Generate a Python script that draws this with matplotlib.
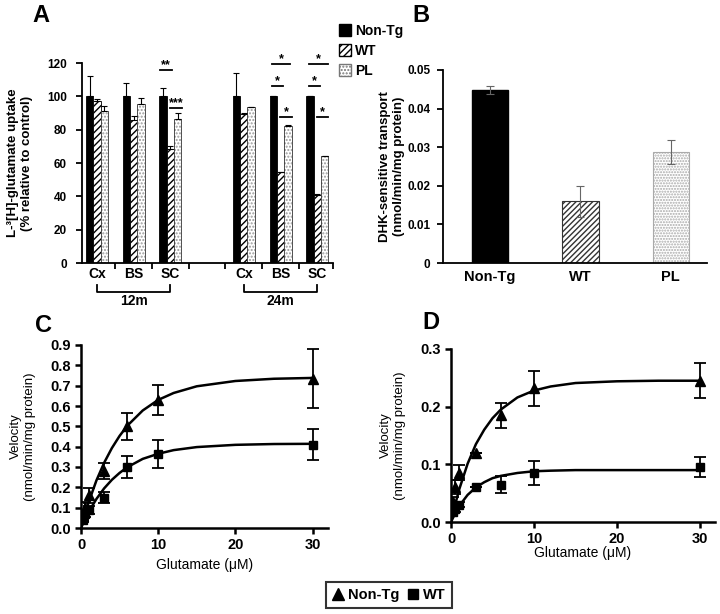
import numpy as np
import matplotlib
matplotlib.use('Agg')
import matplotlib.pyplot as plt
from matplotlib.patches import Patch
from matplotlib.lines import Line2D

plt.rcParams['font.family'] = ['Liberation Sans', 'DejaVu Sans']
plt.rcParams['hatch.linewidth'] = 1.0

# Painel A: captação de glutamato (% do controle)
regioes = ['Cx', 'BS', 'SC', 'Cx', 'BS', 'SC']
idades = ['12m', '24m']
nontg_a = [100, 100, 100, 100, 100, 100]
wt_a = [97, 86, 68.5, 89.5, 54.5, 41]
pl_a = [91.5, 95.5, 86.5, 93.5, 82.5, 64]
nontg_a_err = [12, 8, 5, 14, 0.3, 0.5]
wt_a_err = [1.5, 2, 1.5, 0.3, 0.2, 0.2]
pl_a_err = [2.5, 3.5, 3.5, 0.3, 0.3, 0.5]
# significância: (x inicial, x final, y, texto)
sig_a = [(1.72, 2.04, 116, '**'), (1.99, 2.32, 93, '***'),
         (4.77, 5.26, 119.5, '*'), (4.77, 5.07, 106, '*'), (4.99, 5.31, 87.6, '*'),
         (5.78, 6.29, 119.5, '*'), (5.78, 6.08, 106, '*'), (6.0, 6.29, 87.6, '*')]

# Painel B: transporte sensível a DHK
grupos_b = ['Non-Tg', 'WT', 'PL']
dhk_b = [0.0449, 0.016, 0.0288]
dhk_b_err = [0.001, 0.004, 0.0031]

# Painéis C e D: cinética (pontos e curva ajustada)
glu = [0.25, 0.5, 1, 3, 6, 10, 30]
c_nontg = [0.06, 0.10, 0.16, 0.28, 0.50, 0.63, 0.735]
c_nontg_err = [0.02, 0.03, 0.035, 0.04, 0.065, 0.075, 0.145]
c_wt = [0.04, 0.07, 0.09, 0.15, 0.30, 0.365, 0.41]
c_wt_err = [0.01, 0.015, 0.02, 0.025, 0.055, 0.07, 0.075]
d_nontg = [0.035, 0.06, 0.085, 0.12, 0.185, 0.232, 0.245]
d_nontg_err = [0.008, 0.012, 0.013, 0.0, 0.022, 0.03, 0.03]
d_wt = [0.018, 0.022, 0.03, 0.06, 0.065, 0.085, 0.095]
d_wt_err = [0.003, 0.005, 0.004, 0.0, 0.015, 0.02, 0.017]

curva_x = [0, 0.5, 1, 2, 3, 4, 5, 6, 8, 10, 12, 15, 20, 25, 30]
c_nontg_fit = [0, 0.067, 0.128, 0.234, 0.321, 0.393, 0.453, 0.503, 0.578, 0.630, 0.664, 0.697, 0.723, 0.734, 0.738]
c_wt_fit = [0, 0.042, 0.080, 0.143, 0.195, 0.237, 0.271, 0.299, 0.340, 0.365, 0.383, 0.398, 0.409, 0.413, 0.414]
d_nontg_fit = [0, 0.030, 0.057, 0.101, 0.135, 0.160, 0.180, 0.195, 0.216, 0.228, 0.235, 0.241, 0.244, 0.245, 0.245]
d_wt_fit = [0, 0.015, 0.028, 0.047, 0.060, 0.069, 0.076, 0.080, 0.085, 0.088, 0.089, 0.090, 0.090, 0.090, 0.090]

fig = plt.figure(figsize=(7.2, 6.14), dpi=100)


def estilo(ax, lw=1.5):
    ax.spines['top'].set_visible(False)
    ax.spines['right'].set_visible(False)
    ax.spines['left'].set_linewidth(lw)
    ax.spines['bottom'].set_linewidth(lw)
    ax.tick_params(width=lw, length=4, direction='out')


# ---------- A ----------
axA = fig.add_axes([82 / 720, 1 - 263 / 614, 251 / 720, 200 / 614])
estilo(axA, 1.3)
pos = np.array([0, 1, 2, 4, 5, 6])
w = 0.2
axA.bar(pos - w, nontg_a, w, color='black', edgecolor='black', linewidth=0.6)
axA.bar(pos, wt_a, w, color='white', edgecolor='black', hatch='/////', linewidth=0.6)
axA.bar(pos + w, pl_a, w, color='white', edgecolor='#9a9a9a', hatch='.....', linewidth=0)
axA.bar(pos + w, pl_a, w, fill=False, edgecolor='#333333', linewidth=0.6)
for off, vals, errs in [(-w, nontg_a, nontg_a_err), (0, wt_a, wt_a_err), (w, pl_a, pl_a_err)]:
    axA.errorbar(pos + off, vals, yerr=[np.zeros(len(errs)), errs], fmt='none',
                 ecolor='black', elinewidth=0.8, capsize=2.5, capthick=0.8)
for x0, x1, y, txt in sig_a:
    axA.plot([x0, x1], [y, y], color='black', lw=1.3, clip_on=False)
    axA.text((x0 + x1) / 2, y - 0.8, txt, ha='center', va='bottom', fontsize=9,
             fontweight='bold', clip_on=False)
axA.set_xlim(-0.41, 6.43)
axA.set_ylim(0, 120)
axA.set_yticks(range(0, 121, 20))
axA.set_xticks([0.5, 1.5, 2.5, 3.5, 4.5, 5.5, 6.43])
axA.set_xticklabels([])
axA.set_xticks(pos, minor=True)
axA.set_xticklabels(regioes, minor=True, fontsize=10, fontweight='bold')
axA.tick_params(axis='x', which='minor', length=0, pad=3)
axA.tick_params(axis='y', labelsize=8.5, pad=7)
for lab in axA.get_yticklabels():
    lab.set_fontweight('bold')
axA.set_ylabel('L-³[H]-glutamate uptake\n(% relative to control)', fontsize=9.5,
               fontweight='bold', labelpad=10)
trA = axA.get_xaxis_transform()
for (x0, x1), idade in zip([(0, 2), (4, 6)], idades):
    axA.plot([x0, x0, x1, x1], [-0.11, -0.145, -0.145, -0.11], color='black', lw=1.3,
             transform=trA, clip_on=False)
    axA.text((x0 + x1) / 2, -0.155, idade, transform=trA, ha='center', va='top',
             fontsize=10, fontweight='bold')

handles_a = [Patch(facecolor='black', edgecolor='black'),
             Patch(facecolor='white', edgecolor='black', hatch='/////'),
             Patch(facecolor='white', edgecolor='#777777', hatch='.....')]
fig.legend(handles_a, ['Non-Tg', 'WT', 'PL'], loc='upper left',
           bbox_to_anchor=(333 / 720, 1 - 18 / 614), frameon=False,
           prop={'weight': 'bold', 'size': 10}, handlelength=0.9, handleheight=0.9,
           handletextpad=0.3, labelspacing=0.45, borderaxespad=0)

# ---------- B ----------
axB = fig.add_axes([443 / 720, 1 - 263 / 614, 264 / 720, 193 / 614])
estilo(axB, 1.3)
xb = np.arange(3)
axB.bar(xb[0], dhk_b[0], 0.4, color='black', edgecolor='black')
axB.bar(xb[1], dhk_b[1], 0.4, color='white', edgecolor='#333333', hatch='//////', linewidth=0.8)
axB.bar(xb[2], dhk_b[2], 0.4, color='white', edgecolor='#aaaaaa', hatch='......', linewidth=0.8)
axB.errorbar(xb, dhk_b, yerr=dhk_b_err, fmt='none', ecolor='#666666', elinewidth=0.8,
             capsize=3, capthick=0.8)
axB.set_xlim(-0.52, 2.4)
axB.set_ylim(0, 0.05)
axB.set_yticks([0, 0.01, 0.02, 0.03, 0.04, 0.05])
axB.set_yticklabels(['0', '0.01', '0.02', '0.03', '0.04', '0.05'], fontsize=8.5, fontweight='bold')
axB.tick_params(axis='y', pad=5)
axB.set_xticks(xb)
axB.set_xticklabels(grupos_b, fontsize=10.5, fontweight='bold')
axB.tick_params(axis='x', length=0, pad=5)
axB.set_ylabel('DHK-sensitive transport\n(nmol/min/mg protein)', fontsize=9.5,
               fontweight='bold', labelpad=2)


# ---------- C e D ----------
def cinetica(ax, y1, e1, f1, y2, e2, f2, ymax, yticks, ylabs, xmax, xpad):
    estilo(ax, 1.8)
    ax.plot(curva_x, f1, color='black', lw=1.8)
    ax.plot(curva_x, f2, color='black', lw=1.8)
    ax.errorbar(glu, y1, yerr=e1, fmt='^', color='black', ms=6.5, elinewidth=1.3,
                capsize=4, capthick=1.3)
    ax.errorbar(glu, y2, yerr=e2, fmt='s', color='black', ms=5.5, elinewidth=1.3,
                capsize=4, capthick=1.3)
    ax.set_xlim(0, xmax)
    ax.set_ylim(0, ymax)
    ax.set_yticks(yticks)
    ax.set_yticklabels(ylabs, fontsize=10.5, fontweight='bold')
    ax.set_xticks([0, 10, 20, 30])
    ax.set_xticklabels(['0', '10', '20', '30'], fontsize=10.5, fontweight='bold')
    ax.set_xlabel('Glutamate (μM)', fontsize=10, labelpad=xpad)
    ax.set_ylabel('Velocity\n(nmol/min/mg protein)', fontsize=9.5, labelpad=10)
    for s in ax.spines.values():
        s.set_clip_on(False)


axC = fig.add_axes([81 / 720, 1 - 528 / 614, 247 / 720, 183 / 614])
ct = [round(0.1 * i, 1) for i in range(10)]
cinetica(axC, c_nontg, c_nontg_err, c_nontg_fit, c_wt, c_wt_err, c_wt_fit, 0.9,
         ct, ['%.1f' % v for v in ct], 32, 4)

axD = fig.add_axes([451 / 720, 1 - 522 / 614, 264 / 720, 173 / 614])
dt = [0.0, 0.1, 0.2, 0.3]
cinetica(axD, d_nontg, d_nontg_err, d_nontg_fit, d_wt, d_wt_err, d_wt_fit, 0.3,
         dt, ['%.1f' % v for v in dt], 31.8, 0)

# letras dos painéis
for x, y, letra in [(32, 4, 'A'), (412, 4, 'B'), (35, 314, 'C'), (422, 311, 'D')]:
    fig.text(x / 720, 1 - y / 614, letra, fontsize=17, fontweight='bold', va='top', ha='left')

# legenda inferior
handles_cd = [Line2D([], [], marker='^', color='black', ls='none', ms=8),
              Line2D([], [], marker='s', color='black', ls='none', ms=6.5)]
leg = fig.legend(handles_cd, ['Non-Tg', 'WT'], loc='center', ncol=2,
                 bbox_to_anchor=(389 / 720, 1 - 595 / 614), frameon=True, fancybox=False,
                 prop={'weight': 'bold', 'size': 10.5}, handlelength=0.8, handletextpad=0.3,
                 columnspacing=0.5, borderpad=0.4, edgecolor='black')
leg.get_frame().set_linewidth(1.5)

fig.savefig('out.png', dpi=100)
